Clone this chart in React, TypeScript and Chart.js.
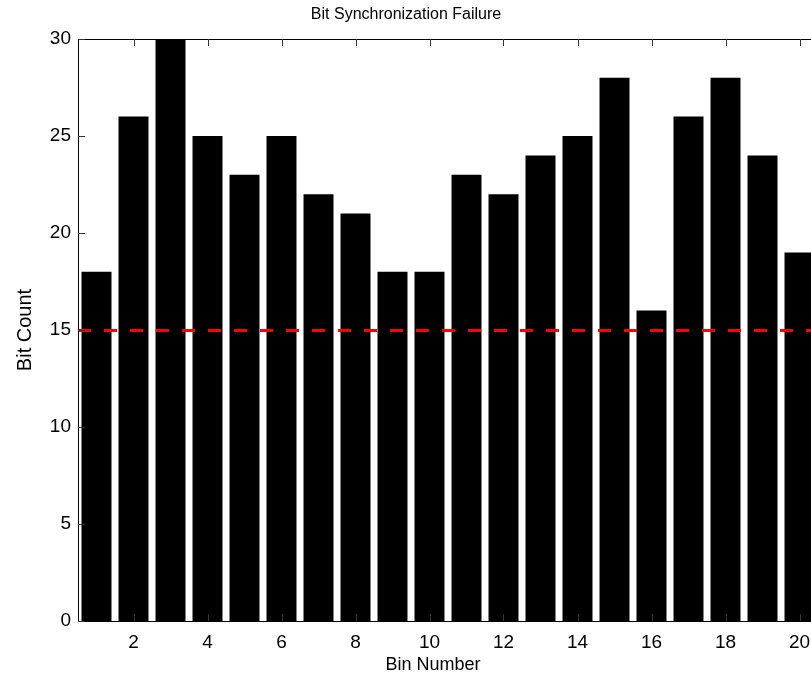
import { useEffect, useRef } from 'react';
import { Chart, registerables } from 'chart.js';

Chart.register(...registerables);

// Bin categories along the x axis
const binLabels = ['1', '2', '3', '4', '5', '6', '7', '8', '9', '10', '11', '12', '13', '14', '15', '16', '17', '18', '19', '20'];
// Failed bit count for each bin
const bitCounts = [18, 26, 30, 25, 23, 25, 22, 21, 18, 18, 23, 22, 24, 25, 28, 16, 26, 28, 24, 19];
// Threshold drawn as a dashed red reference line
const thresholdCount = 15;
// Y axis range and tick step
const countMin = 0;
const countMax = 30;
const countStep = 5;

const chartTitle = 'Bit Synchronization Failure';
const xTitle = 'Bin Number';
const yTitle = 'Bit Count';

const FONT = '"Liberation Sans", Arial, Helvetica, sans-serif';
const CANVAS_W = 840;
const CANVAS_H = 682;

// Draws the MATLAB-style frame, inward ticks, threshold line and titles
const framePlugin = {
  id: 'matlabFrame',
  afterDatasetsDraw(chart: any) {
    const { ctx, chartArea, scales } = chart;
    const { left, right, top, bottom } = chartArea;
    const x = scales.x;
    const y = scales.y;
    ctx.save();

    // threshold
    const ty = Math.round(y.getPixelForValue(thresholdCount)) + 0.5;
    ctx.strokeStyle = '#ff0000';
    ctx.lineWidth = 3;
    ctx.setLineDash([13, 13]);
    ctx.beginPath();
    ctx.moveTo(left, ty);
    ctx.lineTo(right, ty);
    ctx.stroke();
    ctx.setLineDash([]);

    // frame
    ctx.strokeStyle = '#000000';
    ctx.lineWidth = 1;
    ctx.beginPath();
    ctx.moveTo(left + 0.5, bottom + 0.5);
    ctx.lineTo(left + 0.5, top + 0.5);
    ctx.lineTo(right - 0.5, top + 0.5);
    ctx.lineTo(right - 0.5, bottom + 0.5);
    ctx.lineTo(left + 0.5, bottom + 0.5);
    ctx.stroke();

    // inward ticks
    const tl = 7;
    ctx.strokeStyle = '#333333';
    ctx.beginPath();
    y.ticks.forEach((t: any) => {
      const py = Math.round(y.getPixelForValue(t.value)) + 0.5;
      ctx.moveTo(left, py);
      ctx.lineTo(left + tl, py);
      ctx.moveTo(right, py);
      ctx.lineTo(right - tl, py);
    });
    binLabels.forEach((lab, i) => {
      if (Number(lab) % 2 !== 0) return;
      const px = Math.round(x.getPixelForValue(i)) + 0.5;
      ctx.moveTo(px, top);
      ctx.lineTo(px, top + tl);
      ctx.moveTo(px, bottom);
      ctx.lineTo(px, bottom - tl);
    });
    ctx.stroke();

    // titles
    ctx.fillStyle = '#000000';
    ctx.textAlign = 'center';
    ctx.textBaseline = 'alphabetic';
    ctx.font = `16px ${FONT}`;
    ctx.fillText(chartTitle, 406, 19);
    ctx.font = `18px ${FONT}`;
    ctx.fillText(xTitle, 433, 670);
    ctx.font = `20px ${FONT}`;
    ctx.translate(31, (top + bottom) / 2);
    ctx.rotate(-Math.PI / 2);
    ctx.fillText(yTitle, 0, 0);

    ctx.restore();
  },
};

export default function App() {
  const canvasRef = useRef<HTMLCanvasElement | null>(null);

  useEffect(() => {
    const canvas = canvasRef.current;
    if (!canvas) return;
    const chart = new Chart(canvas, {
      type: 'bar',
      data: {
        labels: binLabels,
        datasets: [
          {
            data: bitCounts,
            backgroundColor: '#000000',
            borderWidth: 0,
            barPercentage: 0.81,
            categoryPercentage: 1,
          },
        ],
      },
      options: {
        responsive: false,
        animation: false,
        devicePixelRatio: 1,
        layout: { padding: { top: 39, right: 22, left: 0, bottom: 0 } },
        plugins: {
          legend: { display: false },
          tooltip: { enabled: false },
          title: { display: false },
        },
        scales: {
          x: {
            type: 'category',
            grid: { display: false, drawTicks: false },
            border: { display: false },
            ticks: {
              autoSkip: false,
              maxRotation: 0,
              minRotation: 0,
              padding: 10,
              color: '#000000',
              font: { family: FONT, size: 19 },
              callback: (_v: any, i: number) => (Number(binLabels[i]) % 2 === 0 ? binLabels[i] : ''),
            },
            afterFit: (s: any) => {
              s.height = 61;
            },
          },
          y: {
            min: countMin,
            max: countMax,
            grid: { display: false, drawTicks: false },
            border: { display: false },
            ticks: {
              stepSize: countStep,
              padding: 7,
              color: '#000000',
              font: { family: FONT, size: 19 },
            },
            afterFit: (s: any) => {
              s.width = 78;
            },
          },
        },
      },
      plugins: [framePlugin],
    });
    return () => chart.destroy();
  }, []);

  return (
    <div style={{ position: 'absolute', left: 0, top: 0, width: 811, height: 682, overflow: 'hidden', background: '#ffffff' }}>
      <canvas ref={canvasRef} width={CANVAS_W} height={CANVAS_H} style={{ display: 'block' }} />
    </div>
  );
}
